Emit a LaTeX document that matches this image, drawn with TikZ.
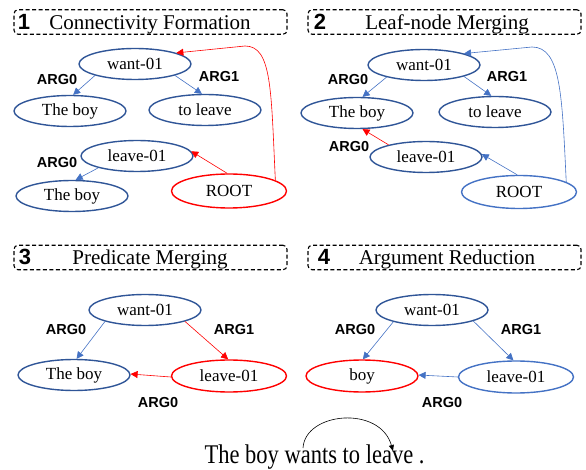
\documentclass[tikz,border=0pt]{standalone}
\usepackage{fontspec}
\setmainfont{Liberation Serif}
\setsansfont{Liberation Sans}
\usetikzlibrary{shapes.geometric,arrows.meta}
\definecolor{amrblue}{HTML}{2F5597}
\definecolor{amrlight}{HTML}{4472C4}
\definecolor{linkblue}{HTML}{4472C4}
\definecolor{amrred}{HTML}{FF0000}

\begin{document}
\begin{tikzpicture}[x=1pt,y=-1pt,
  amr/.style={ellipse,draw=amrblue,line width=1.4pt,minimum width=112pt,minimum height=31pt,inner sep=0pt,font=\fontsize{17}{20}\selectfont},
  amrhot/.style={amr,draw=amrred,minimum width=115pt,minimum height=34pt},
  amrpale/.style={amr,draw=amrlight,minimum width=115pt,minimum height=33pt},
  role/.style={font=\sffamily\bfseries\fontsize{14.5}{16}\selectfont},
  link/.style={draw=linkblue,line width=0.6pt,-{Triangle[length=7pt,width=7pt]}},
  hotlink/.style={link,draw=amrred},
  stage/.style={draw,dash pattern=on 4pt off 2.5pt,rounded corners=4pt,line width=1.1pt,minimum width=273pt,minimum height=24.5pt,inner sep=0pt},
  stagename/.style={anchor=base,font=\fontsize{21}{24}\selectfont},
  stagenum/.style={anchor=base,font=\sffamily\bfseries\fontsize{22}{24}\selectfont}]
  \useasboundingbox (0,0) rectangle (586,470);
  \foreach \p/\x/\y/\nx/\tx/\t in {1/150.5/22/24/150/Connectivity Formation,
      2/444.5/22/320/447/Leaf-node Merging,
      3/150.5/257.5/25/150/Predicate Merging,
      4/444.5/257.5/324/447/Argument Reduction} {
    \node[stage] (s\p) at (\x,\y) {};
    \node[stagenum] (n\p) at (\nx,\y+7.5) {\p};
    \node[stagename] (t\p) at (\tx,\y+7.5) {\t};
  }

  \node[amr] (w1) at (135,64) {want-01};
  \node[amr] (b1) at (70,111) {The boy};
  \node[amr] (t1) at (205,110) {to leave};
  \node[amr] (l1) at (137,156) {leave-01};
  \node[amr] (c1) at (72,196) {The boy};
  \node[amrhot] (r1) at (229,191) {ROOT};
  \node[role] (g1a) at (57,80) {ARG0};
  \node[role] (g1b) at (219,77) {ARG1};
  \node[role] (g1c) at (57,163) {ARG0};

  \node[amr] (w2) at (424,65) {want-01};
  \node[amr] (b2) at (357,113) {The boy};
  \node[amr] (t2) at (495,112) {to leave};
  \node[amr] (l2) at (426,157) {leave-01};
  \node[amrpale] (r2) at (519,192) {ROOT};
  \node[role] (g2a) at (348,80) {ARG0};
  \node[role] (g2b) at (507,77) {ARG1};
  \node[role] (g2c) at (349,147) {ARG0};

  \node[amr] (w3) at (145,310) {want-01};
  \node[amr] (b3) at (74,375) {The boy};
  \node[amrhot,minimum height=32pt] (l3) at (229,376) {leave-01};
  \node[role] (g3a) at (66,330) {ARG0};
  \node[role] (g3b) at (234,330) {ARG1};
  \node[role] (g3c) at (158,403) {ARG0};

  \node[amr] (w4) at (432,310) {want-01};
  \node[amrhot,minimum width=112pt,minimum height=32pt] (b4) at (362,376) {boy};
  \node[amrpale,minimum height=32pt] (l4) at (516,377) {leave-01};
  \node[role] (g4a) at (355,330) {ARG0};
  \node[role] (g4b) at (521,330) {ARG1};
  \node[role] (g4c) at (442,403) {ARG0};

  \foreach \a/\b in {w1.196/b1.79,w1.344/t1.101,l1.197/c1.77,
      w2.198/b2.71,w2.344/t2.103,r2.96/l2.3,
      w3.196/b3.81,w4.197/b4.87,w4.345/l4.99,l4.180/b4.1} {
    \draw[link] (\a) -- (\b);
  }
  \foreach \a/\b in {r1.96/l1.5,l2.162/b2.289,w3.344/l3.93,l3.181/b3.1} {
    \draw[hotlink] (\a) -- (\b);
  }
  \coordinate (k1) at (245,46);
  \coordinate (k2) at (532,47);
  \draw[hotlink] (r1.13) .. controls (271,90) and (272,46) .. (k1) -- (w1.15);
  \draw[link] (r2.12) .. controls (562,95) and (561,47) .. (k2) -- (w2.16);

  \node[anchor=base,font=\fontsize{22.5}{26}\selectfont] (sent) at (314.5,463) {\scalebox{1}[1.2]{The boy wants to leave .}};
  \coordinate (wantsTop) at (303,448);
  \coordinate (leaveTop) at (393,451);
  \draw[line width=0.6pt,-{Triangle[length=6pt,width=5pt]}] (wantsTop) .. controls (305,412) and (380,405) .. (leaveTop);
\end{tikzpicture}
\end{document}
